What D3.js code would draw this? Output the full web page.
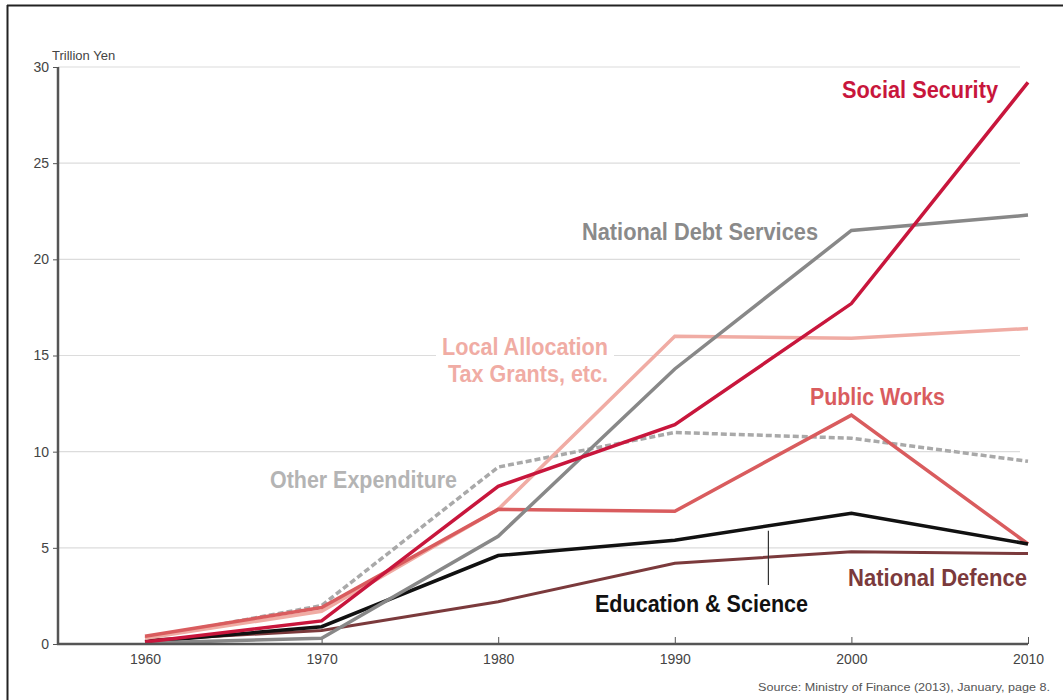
<!DOCTYPE html>
<html>
<head>
<meta charset="utf-8">
<script src="https://cdn.jsdelivr.net/npm/d3@7"></script>
<style>
  html, body { margin: 0; padding: 0; background: #fff; }
  svg { display: block; }
  .lbl { font-family: "Liberation Sans Narrow", "Arial Narrow", "Liberation Sans", sans-serif; font-weight: bold; }
  .tick text { font-family: "Liberation Sans Narrow", "Liberation Sans", sans-serif; }
</style>
</head>
<body>
<script>
const years = [1960, 1970, 1980, 1990, 2000, 2010];
const yTicks = [0, 5, 10, 15, 20, 25, 30];

const socialSecurity   = [0.1, 1.2, 8.2, 11.4, 17.7, 29.2];
const debtServices     = [0.05, 0.3, 5.6, 14.3, 21.5, 22.3];
const localAllocation  = [0.3, 1.7, 7.0, 16.0, 15.9, 16.4];
const otherExpenditure = [0.3, 2.0, 9.2, 11.0, 10.7, 9.5];
const publicWorks      = [0.4, 1.9, 7.0, 6.9, 11.9, 5.2];
const educationScience = [0.1, 0.9, 4.6, 5.4, 6.8, 5.2];
const nationalDefence  = [0.2, 0.7, 2.2, 4.2, 4.8, 4.7];

const seriesNames = ["National Defence", "Other Expenditure", "Local Allocation Tax Grants, etc.", "Public Works", "Education & Science", "National Debt Services", "Social Security"];

const W = 1063, H = 700;
const svg = d3.select("body").append("svg").attr("width", W).attr("height", H);

// frame
svg.append("line").attr("x1", 7).attr("x2", W).attr("y1", 5.5).attr("y2", 5.5).attr("stroke", "#222").attr("stroke-width", 2);
svg.append("line").attr("x1", 7.5).attr("x2", 7.5).attr("y1", 5).attr("y2", H).attr("stroke", "#222").attr("stroke-width", 2);

const x = d3.scaleLinear().domain([1960, 2010]).range([145, 1028]);
const y = d3.scaleLinear().domain([0, 30]).range([644, 67]);
const axisLeft = 58;

// gridlines
svg.append("g").selectAll("line").data(yTicks.filter(d => d > 0)).join("line")
  .attr("x1", axisLeft).attr("x2", 1020)
  .attr("y1", d => y(d)).attr("y2", d => y(d))
  .attr("stroke", "#dcdcdc").attr("stroke-width", 1.2);

// y axis
const gy = svg.append("g").attr("transform", `translate(${axisLeft},0)`)
  .call(d3.axisLeft(y).tickValues(yTicks).tickSize(5).tickPadding(4));
gy.select(".domain").remove();
gy.selectAll(".tick line").attr("stroke", "#555");
gy.selectAll(".tick text").attr("fill", "#444").style("font-size", "14px");
svg.append("line").attr("x1", axisLeft).attr("x2", axisLeft).attr("y1", y(30)).attr("y2", y(0))
  .attr("stroke", "#555").attr("stroke-width", 2.5);

// x axis
const gx = svg.append("g").attr("transform", `translate(0,${y(0)})`)
  .call(d3.axisBottom(x).tickValues(years).tickFormat(d3.format("d")).tickSize(0).tickPadding(10));
gx.select(".domain").remove();
gx.selectAll(".tick text").attr("fill", "#444").style("font-size", "14px");
gx.selectAll(".tick").append("line").attr("y1", 0).attr("y2", -7).attr("stroke", "#555").attr("stroke-width", 1);

svg.append("text").attr("x", 52).attr("y", 60).text("Trillion Yen")
  .attr("fill", "#444").style("font-family", "'Liberation Sans Narrow', 'Liberation Sans', sans-serif").style("font-size", "13px");

const line = d3.line().x((d, i) => x(years[i])).y(d => y(d));

const series = [
  { name: seriesNames[0], vals: nationalDefence, color: "#7b3a3c", w: 3, dash: null },
  { name: seriesNames[1], vals: otherExpenditure, color: "#a9a9a9", w: 3.5, dash: "6,3" },
  { name: seriesNames[2], vals: localAllocation, color: "#f0aca4", w: 3.5, dash: null },
  { name: seriesNames[3], vals: publicWorks, color: "#d95c5e", w: 3.5, dash: null },
  { name: seriesNames[4], vals: educationScience, color: "#111111", w: 3.5, dash: null },
  { name: seriesNames[5], vals: debtServices, color: "#888888", w: 3.5, dash: null },
  { name: seriesNames[6], vals: socialSecurity, color: "#c8163c", w: 3.5, dash: null }
];

svg.append("g").selectAll("path").data(series).join("path")
  .attr("d", d => line(d.vals))
  .attr("fill", "none")
  .attr("stroke", d => d.color)
  .attr("stroke-width", d => d.w)
  .attr("stroke-dasharray", d => d.dash)
  .attr("stroke-linejoin", "miter");

// x axis line on top
svg.append("line").attr("x1", axisLeft - 1).attr("x2", 1028).attr("y1", y(0)).attr("y2", y(0))
  .attr("stroke", "#555").attr("stroke-width", 2.5);

// leader line for Education & Science
svg.append("line").attr("x1", x(1995.3)).attr("x2", x(1995.3)).attr("y1", y(6.1) + 4).attr("y2", 585)
  .attr("stroke", "#333").attr("stroke-width", 1.2);

// labels
const labels = [
  { lines: ["Social Security"], color: "#c8163c", x: 998, y: 98, anchor: "end", w: [156] },
  { lines: ["National Debt Services"], color: "#8a8a8a", x: 818, y: 240, anchor: "end", w: [236] },
  { lines: ["Local Allocation", "Tax Grants, etc."], color: "#f0aca4", x: 608, y: 355, anchor: "end", w: [166, 160] },
  { lines: ["Public Works"], color: "#d95c5e", x: 945, y: 405, anchor: "end", w: [135] },
  { lines: ["Other Expenditure"], color: "#b4b4b4", x: 457, y: 488, anchor: "end", w: [187] },
  { lines: ["National Defence"], color: "#7b3a3c", x: 1027, y: 586, anchor: "end", w: [179] },
  { lines: ["Education & Science"], color: "#111111", x: 808, y: 612, anchor: "end", w: [213] }
];

labels.forEach(l => {
  const g = svg.append("g");
  const t = g.append("text").attr("class", "lbl").attr("fill", l.color)
    .attr("text-anchor", l.anchor).style("font-size", "23px");
  l.lines.forEach((s, i) => {
    const ts = t.append("tspan").attr("x", l.x).attr("y", l.y + i * 27).text(s);
    ts.attr("textLength", l.w[i]).attr("lengthAdjust", "spacingAndGlyphs");
  });
  const bb = t.node().getBBox();
  g.insert("rect", "text").attr("x", bb.x - 6).attr("y", bb.y).attr("width", bb.width + 12).attr("height", bb.height)
    .attr("fill", "#fff");
});

svg.append("text").attr("x", 1050).attr("y", 691).attr("text-anchor", "end")
  .text("Source: Ministry of Finance (2013), January, page 8.")
  .attr("fill", "#555").style("font-family", "'Liberation Sans Narrow', 'Liberation Sans', sans-serif").style("font-size", "11.5px")
  .attr("textLength", 292).attr("lengthAdjust", "spacingAndGlyphs");
</script>
</body>
</html>
